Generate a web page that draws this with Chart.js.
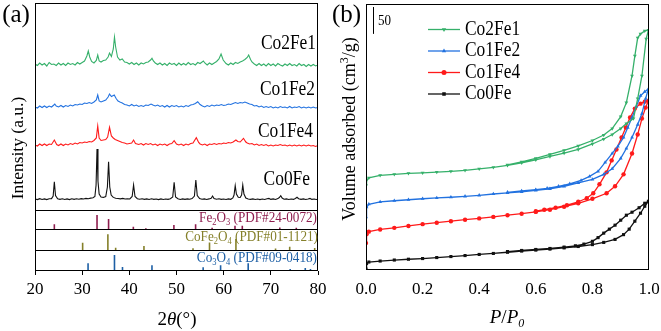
<!DOCTYPE html>
<html>
<head>
<meta charset="utf-8">
<script src="https://cdn.jsdelivr.net/npm/chart.js@4.4.1/dist/chart.umd.min.js"></script>
<style>
    html, body { margin: 0; padding: 0; background: #fff; }
    #wrap { position: relative; width: 661px; height: 331px; }
    canvas { position: absolute; top: 0; }
    #xrdChart { left: 0; }
    #betChart { left: 330px; }
</style>
</head>
<body>
<div id="wrap">
    <canvas id="xrdChart" width="330" height="331"></canvas>
    <canvas id="betChart" width="331" height="331"></canvas>
</div>
<script>
// ---- XRD traces, [2theta, stacked intensity] (a.u.) ----
const co2fe1Xrd = [
    [20,207],[20.5,205.5],[21,208],[21.5,206],[22,207.5],[22.5,205],[23,208.5],[23.5,206.5],[24,207],[24.5,205.5],
    [25,208],[25.5,206],[26,207.5],[26.5,205.5],[27,208],[27.5,206.5],[28,207.5],[28.5,206],[29,208.5],[29.5,207],
    [30,208.5],[30.5,210],[31,215],[31.3,220],[31.6,214],[32,209.5],[32.5,208],[33,210.5],[33.3,216],[33.6,210],
    [34,209],[34.5,210.5],[35,211],[35.5,214],[35.8,218],[36.2,214.5],[36.6,222],[36.85,234],[37.1,224],[37.5,214],
    [38,211],[38.5,212],[39,209],[39.5,208.5],[40,207],[40.5,208.5],[41,206.5],[41.5,208],[42,206],[42.5,208],
    [43,207],[43.5,208.5],[44,209],[44.5,211],[44.8,212.7],[45.1,210],[45.5,208],[46,206.5],[46.5,208],[47,206],
    [47.5,207.5],[48,205.5],[48.5,208],[49,206.5],[49.5,207.5],[50,205.5],[50.5,208],[51,206],[51.5,207.5],[52,206],
    [52.5,208.5],[53,206.5],[53.5,207.5],[54,206],[54.5,208.5],[55,207.5],[55.7,210],[56,208],[56.5,206],[57,208],
    [57.5,206.5],[58,208],[58.5,209.5],[59,212],[59.45,217],[59.9,211],[60.5,207.5],[61,206],[61.5,208],[62,206.5],
    [62.5,208.5],[63,207.5],[63.5,209],[64,210],[64.5,211.5],[65,213.5],[65.3,216],[65.7,211.5],[66,209],[66.5,207],
    [67,205.5],[67.5,207.5],[68,205.5],[68.5,207],[69,205],[69.5,207.5],[70,205.5],[70.5,207],[71,205],[71.5,207.5],
    [72,206],[72.5,205],[73,207],[73.5,205.5],[74,207.5],[74.5,205.5],[75,206.5],[75.5,205],[76,207.5],[76.5,205.5],
    [77,206.5],[77.5,204.5],[78,206.5],[78.5,205],[79,206.5],[79.5,205],[80,206]
];
const co1fe2Xrd = [
    [20,164],[20.5,163],[21,165],[21.5,163.5],[22,165],[22.5,163.5],[23,165],[23.5,164],[24,166],[24.2,167],
    [24.5,165],[25,164],[25.5,165.5],[26,164],[26.5,165.5],[27,164.5],[27.5,166],[28,165],[28.5,166.5],[29,166],
    [29.5,167],[30,166.5],[30.5,168],[31,167.5],[31.5,168.5],[32,167.5],[32.5,169],[33,171],[33.3,176],[33.6,170],
    [34,169],[34.5,170],[35,171],[35.5,174],[35.8,177],[36.2,174.5],[36.8,176],[37.2,172.5],[37.6,170],[38,169],
    [38.5,168],[39,166.5],[39.5,166],[40,165],[40.5,166.5],[41,165],[41.5,166],[42,164.5],[42.5,165.5],[43,164.5],
    [43.5,166],[44,165.5],[44.6,167],[45,166],[45.5,165],[46,166],[46.5,164.5],[47,165.5],[47.5,164],[48,165.5],
    [48.5,164],[49,165.5],[49.5,164.5],[50,165.5],[50.5,164],[51,165],[51.5,164],[52,165.5],[52.5,164.5],[53,166],
    [53.5,166.5],[54,167.5],[54.5,169.3],[55,166.5],[55.5,165],[56,164],[56.5,165.5],[57,164.5],[57.5,166],[58,165],
    [58.5,166],[59,165.5],[59.5,166.5],[60,165.5],[60.5,166],[61,167],[61.5,166.5],[62,167.5],[62.5,168.5],[63,167.5],
    [63.5,168.5],[64,168],[64.5,169],[65,168],[65.5,167],[66,166.5],[66.5,165],[67,165.5],[67.5,164],[68,165],
    [68.5,163.5],[69,164.5],[69.5,163.5],[70,164.5],[70.5,163],[71,164],[71.5,163],[72,164.5],[72.5,163.5],[73,164],
    [73.5,163],[74,164.5],[74.5,163],[75,164],[75.5,163.5],[76,164.5],[76.5,163],[77,164],[77.5,163],[78,164],
    [78.5,163],[79,164],[79.5,163],[80,163.5]
];
const co1fe4Xrd = [
    [20,126],[20.5,125],[21,127],[21.5,125.5],[22,127],[22.5,125.5],[23,127],[23.5,126.5],[24.1,131],[24.6,126.5],
    [25,125.5],[25.5,127],[26,125.5],[26.5,127],[27,126],[27.5,127.5],[28,126.5],[28.5,128],[29,127],[29.5,128.5],
    [30,128],[30.5,129],[31,128.5],[31.5,129.5],[32,129],[32.5,130.5],[33,133],[33.3,145],[33.6,133],[34,130.5],
    [34.5,131],[35,131.5],[35.4,134],[35.8,143.7],[36.2,135],[36.6,133],[37,131.5],[37.5,130.5],[38,129.5],[38.5,128.5],
    [39,128],[39.5,127],[40,127.5],[40.5,128],[40.9,131],[41.3,127.5],[42,126.5],[42.5,127.5],[43,126],[43.5,127.5],
    [44,126.5],[44.5,127.5],[45,126],[45.5,127],[46,125.5],[46.5,127],[47,126],[47.5,127],[48,125.5],[48.5,127],
    [49,127.5],[49.5,130.3],[50,127],[50.5,126],[51,127],[51.5,125.5],[52,127],[52.5,126],[53,127.5],[53.5,128],
    [54.2,133.3],[54.7,128.5],[55,127],[55.5,126],[56,127],[56.5,125.5],[57,127],[57.5,126.5],[58,127.5],[58.5,126.5],
    [59,127.5],[59.5,127],[60,128],[60.5,127.5],[61,128.5],[61.5,128],[62,129],[62.6,131],[63,129.5],[63.5,129],
    [64.2,132.7],[64.7,129],[65,128],[65.5,127],[66,127.5],[66.5,126],[67,127],[67.5,125.5],[68,126.5],[68.5,125.5],
    [69,126.5],[69.5,125],[70,126],[70.5,125],[71,126],[71.5,125.5],[72,126.5],[72.5,125.5],[73,126],[73.5,125],
    [74,126],[74.5,125],[75,126],[75.5,125],[76,126],[76.5,125],[77,126],[77.5,125],[78,126],[78.5,125],
    [79,125.5],[79.5,124.5],[80,125.5]
];
const co0feXrd = [
    [20,72],[20.5,71.4],[21,72.3],[21.5,71.5],[22,72.1],[22.5,71.4],[23,72.2],[23.5,72.4],[23.85,75],[24.1,89.3],
    [24.35,75.5],[24.8,72.3],[25.3,71.6],[25.8,72.2],[26.3,71.5],[26.8,72.1],[27.3,71.4],[27.8,72.2],[28.3,71.6],[28.8,72.2],
    [29.3,71.7],[29.8,72.4],[30.3,72],[30.8,72.6],[31.3,72.3],[31.8,72.9],[32.3,73.2],[32.7,74.5],[32.95,86],[33.15,122],
    [33.35,90],[33.6,77],[34,74],[34.5,73.6],[35,74.5],[35.35,84],[35.6,109.3],[35.85,84],[36.15,76],[36.6,73.6],
    [37.1,72.8],[37.6,72.5],[38.1,72.1],[38.6,72.6],[39.1,72],[39.6,72.3],[40.1,72],[40.6,74.5],[40.9,86],[41.2,74.5],
    [41.7,72.3],[42.2,71.7],[42.7,72.2],[43.2,71.6],[43.7,72.1],[44.2,71.5],[44.7,72.2],[45.2,71.6],[45.7,72],[46.2,71.4],
    [46.7,72.1],[47.2,71.5],[47.7,72],[48.2,71.6],[48.7,72.2],[49.2,74],[49.5,88.7],[49.8,74],[50.3,72.2],[50.8,71.5],
    [51.3,72.1],[51.8,71.6],[52.3,72.1],[52.8,71.7],[53.3,72.4],[53.8,75],[54.1,91],[54.4,75.5],[54.9,72.4],[55.4,71.7],
    [55.9,72.1],[56.4,71.5],[56.9,72.1],[57.35,72.8],[57.65,75],[57.95,72.5],[58.5,71.8],[59,72.2],[59.5,71.6],[60,72],
    [60.5,71.5],[61,72.1],[61.5,71.7],[61.95,73],[62.2,76],[62.45,85.3],[62.7,77],[63.1,73.8],[63.5,73.5],[63.8,76],
    [64.05,86],[64.3,77],[64.7,73],[65.2,72],[65.7,71.6],[66.2,72.1],[66.7,71.5],[67.2,72],[67.7,71.4],[68.2,72],
    [68.7,71.5],[69.2,72.2],[69.6,72.6],[70,71.6],[70.5,72.1],[71,71.5],[71.5,72.4],[71.8,73.5],[72.1,75.3],[72.4,73],
    [72.8,71.8],[73.3,72.1],[73.8,71.5],[74.3,72],[74.8,71.6],[75.2,72.5],[75.55,73.7],[75.9,72.3],[76.4,71.6],[76.9,72.1],
    [77.4,71.5],[77.9,72],[78.3,72.6],[78.7,71.6],[79.2,72],[79.6,71.5],[80,71.8]
];

// ---- reference cards: [2theta, stick height] ----
const fe2o3Sticks = [[24.1,4.7],[33.15,14],[35.6,10],[40.85,2.3],[43.5,0.8],[49.45,4],[54.05,4.7],[57.55,1.2],[62.4,3.3],[63.95,3.3],[71.9,1.4],[75.4,1.2]];
const cofe2o4Sticks = [[30.1,7.3],[35.45,15.7],[37.1,2.3],[43.1,4],[53.5,1.8],[57.0,7.5],[62.6,11],[71.0,1.6],[74.0,3.2],[79.3,2]];
const co3o4Sticks = [[31.25,7.7],[36.85,16],[38.55,4],[44.8,5.7],[55.65,3.7],[59.35,5.7],[65.2,7.7],[74.1,2],[77.3,3],[78.4,2]];
const stickBase = [42, 21, 0]; // Fe2O3, CoFe2O4, Co3O4 panels
const panelBreaks = [61, 42, 21];

// ---- N2 isotherms, [P/P0, stacked volume] (adsorption then desorption) ----
const co2fe1Iso = [
    [0,85],[0.002,90],[0.01,92.5],[0.05,95],[0.1,96],[0.15,97],[0.2,97.5],[0.25,98.3],[0.3,99],[0.35,100],
    [0.4,101.5],[0.45,103],[0.5,105],[0.55,107.5],[0.6,110.5],[0.65,114],[0.7,117.3],[0.75,121],[0.8,126.5],[0.84,131.5],
    [0.87,136],[0.9,142],[0.92,147],[0.945,152],[0.96,172],[0.975,195],[0.99,232],[0.998,240.7],
    [0.985,240],[0.97,237],[0.96,233],[0.95,215],[0.94,195],[0.92,168],[0.9,154],[0.87,142],[0.84,135.5],[0.8,130],
    [0.75,124.5],[0.7,120],[0.65,116],[0.6,112],[0.55,108.5],[0.5,105.5]
];
const co1fe2Iso = [
    [0,53],[0.002,63],[0.01,66],[0.05,68.3],[0.1,69.5],[0.15,70.5],[0.2,71.5],[0.25,72.3],[0.3,73],[0.35,74],
    [0.4,75],[0.45,76.3],[0.5,77.5],[0.55,78.5],[0.6,80],[0.65,81.5],[0.7,84],[0.75,87.5],[0.8,91],[0.84,96],
    [0.87,101.7],[0.9,112],[0.92,122],[0.94,133],[0.96,146],[0.975,157],[0.988,172],[0.998,181.7],
    [0.985,179],[0.97,175],[0.955,164],[0.94,153],[0.925,143],[0.91,133],[0.89,124],[0.87,117],[0.845,108],[0.82,99],
    [0.79,94],[0.76,90],[0.72,86.5],[0.68,84],[0.64,82],[0.6,80.7],[0.55,79.3],[0.5,78]
];
const co1fe4Iso = [
    [0,27],[0.002,36],[0.01,38.5],[0.05,40.7],[0.1,42.3],[0.15,44.2],[0.2,46],[0.25,47.5],[0.3,49],[0.35,50.5],
    [0.4,51.8],[0.45,53.3],[0.5,55],[0.55,56.5],[0.6,58.3],[0.65,60.5],[0.7,63.5],[0.75,67],[0.8,71.5],[0.85,77],
    [0.88,84],[0.91,96],[0.94,117],[0.96,136],[0.975,152],[0.988,163],[0.998,170],
    [0.985,169],[0.97,167],[0.95,162],[0.933,153],[0.918,143],[0.903,133],[0.885,121],[0.868,110],[0.85,98],
    [0.825,86],[0.803,77],[0.78,72],[0.75,68.5],[0.71,65],[0.67,62.5],[0.63,60.5],[0.6,59]
];
const co0feIso = [
    [0,1],[0.002,6.5],[0.01,8],[0.05,9],[0.1,10],[0.15,10.8],[0.2,11.5],[0.25,12.5],[0.3,13.5],[0.35,14.5],
    [0.4,15.6],[0.45,16.6],[0.5,17.8],[0.55,19],[0.6,20],[0.65,21],[0.7,22.2],[0.75,23.6],[0.8,25.5],[0.84,27.7],
    [0.88,30.7],[0.91,35.5],[0.93,41],[0.95,49],[0.97,57],[0.985,64],[0.998,69],
    [0.985,67],[0.965,62.5],[0.94,58],[0.92,55],[0.9,50],[0.88,45],[0.86,41],[0.84,37],[0.82,32.5],
    [0.8,28.8],[0.77,26],[0.74,24.3],[0.7,23],[0.65,21.6],[0.6,20.6],[0.55,19.6],[0.5,18.5]
];

const sampleNames = ['Co2Fe1', 'Co1Fe2', 'Co1Fe4', 'Co0Fe'];
const sampleColors = ['#35b06a', '#2272e0', '#ff1a1a', '#111111'];
const cardColors = ['#8e1d4e', '#85802a', '#1d5fa5'];
const scaleBarValue = '50';

const serif = "'Liberation Serif', 'Times New Roman', serif";

// draws text made of parts (sub/superscripts, italics)
function drawRich(ctx, parts, x, y, o) {
    const size = o.size;
    const fontOf = p => (p.italic ? 'italic ' : '') + ((p.sub || p.sup) ? Math.round(size * 0.65) : size) + 'px ' + serif;
    ctx.save();
    ctx.fillStyle = o.color || '#000';
    ctx.textBaseline = 'middle';
    ctx.textAlign = 'left';
    let w = 0;
    parts.forEach(p => { ctx.font = fontOf(p); w += ctx.measureText(p.t).width; });
    ctx.translate(x, y);
    if (o.rotate) ctx.rotate(o.rotate);
    ctx.scale(o.scaleX || 1, 1);
    let cx = o.align === 'right' ? -w : (o.align === 'center' ? -w / 2 : 0);
    parts.forEach(p => {
        ctx.font = fontOf(p);
        const dy = p.sub ? size * 0.3 : (p.sup ? -size * 0.3 : 0);
        ctx.fillText(p.t, cx, dy);
        cx += ctx.measureText(p.t).width;
    });
    ctx.restore();
}

function frame(chart) {
    const a = chart.chartArea, ctx = chart.ctx;
    ctx.save();
    ctx.strokeStyle = '#000';
    ctx.lineWidth = 1;
    ctx.strokeRect(Math.round(a.left) + 0.5, Math.round(a.top) + 0.5,
        Math.round(a.right - a.left) - 1, Math.round(a.bottom - a.top) - 1);
    ctx.restore();
}

function stickLine(sticks, base) {
    const pts = [];
    sticks.forEach(s => {
        pts.push({x: s[0], y: base}, {x: s[0], y: base + s[1]}, {x: s[0], y: null});
    });
    return pts;
}

// keep the plot boxes exactly where the figure has them
function fixBox(height) {
    return s => {
        s.height = height;
        s.paddingLeft = 0;
        s.paddingRight = 0;
    };
}

// ---------------- (a) XRD ----------------
const xrdTraces = [co2fe1Xrd, co1fe2Xrd, co1fe4Xrd, co0feXrd];
const xrdDatasets = xrdTraces.map((tr, i) => ({
    label: sampleNames[i],
    data: tr,
    borderColor: sampleColors[i],
    borderWidth: 1.1,
    pointRadius: 0,
    tension: 0
}));
[fe2o3Sticks, cofe2o4Sticks, co3o4Sticks].forEach((s, i) => {
    xrdDatasets.push({
        label: 'card' + i,
        data: stickLine(s, stickBase[i]),
        borderColor: cardColors[i],
        borderWidth: 1.6,
        pointRadius: 0,
        spanGaps: false
    });
});

const xrdDecor = {
    id: 'xrdDecor',
    afterDraw(chart) {
        const ctx = chart.ctx, a = chart.chartArea, y = chart.scales.y;
        ctx.save();
        ctx.strokeStyle = '#000';
        ctx.lineWidth = 1;
        panelBreaks.forEach(v => {
            const py = Math.round(y.getPixelForValue(v)) + 0.5;
            ctx.beginPath();
            ctx.moveTo(a.left, py);
            ctx.lineTo(a.right, py);
            ctx.stroke();
        });
        ctx.restore();
        frame(chart);

        const labelPos = [[316, 43.5], [315, 90], [313, 132], [310, 180]];
        sampleNames.forEach((n, i) => drawRich(ctx, [{t: n}], labelPos[i][0], labelPos[i][1],
            {size: 20, align: 'right', scaleX: 0.87}));

        drawRich(ctx, [{t: 'Fe'}, {t: '2', sub: true}, {t: 'O'}, {t: '3', sub: true}, {t: ' (PDF#24-0072)'}],
            317, 218, {size: 15.5, align: 'right', scaleX: 0.85, color: cardColors[0]});
        drawRich(ctx, [{t: 'CoFe'}, {t: '2', sub: true}, {t: 'O'}, {t: '4', sub: true}, {t: ' (PDF#01-1121)'}],
            318, 237, {size: 15.5, align: 'right', scaleX: 0.85, color: cardColors[1]});
        drawRich(ctx, [{t: 'Co'}, {t: '3', sub: true}, {t: 'O'}, {t: '4', sub: true}, {t: ' (PDF#09-0418)'}],
            317, 258, {size: 15.5, align: 'right', scaleX: 0.85, color: cardColors[2]});

        drawRich(ctx, [{t: 'Intensity (a.u.)'}], 18, 148, {size: 17.5, align: 'center', rotate: -Math.PI / 2});
        drawRich(ctx, [{t: '2'}, {t: 'θ', italic: true}, {t: '(°)'}], 177, 320, {size: 19, align: 'center'});
        drawRich(ctx, [{t: '(a)'}], 16, 15, {size: 25, align: 'center'});
    }
};

new Chart(document.getElementById('xrdChart'), {
    type: 'line',
    data: {datasets: xrdDatasets},
    options: {
        responsive: false,
        animation: false,
        layout: {padding: {left: 35, right: 12, top: 3, bottom: 0}},
        plugins: {legend: {display: false}, tooltip: {enabled: false}},
        scales: {
            x: {
                type: 'linear',
                min: 20,
                max: 80,
                ticks: {stepSize: 10, color: '#000', padding: 4, font: {family: serif, size: 17}},
                grid: {display: true, drawOnChartArea: false, drawTicks: true, tickLength: 4, color: '#000'},
                border: {display: false},
                afterFit: fixBox(60)
            },
            y: {type: 'linear', display: false, min: 0, max: 268}
        }
    },
    plugins: [xrdDecor]
});

// ---------------- (b) BET ----------------
const isoData = [co2fe1Iso, co1fe2Iso, co1fe4Iso, co0feIso];
const markerStyles = [
    {pointStyle: 'triangle', rotation: 180},
    {pointStyle: 'triangle', rotation: 0},
    {pointStyle: 'circle', rotation: 0},
    {pointStyle: 'rect', rotation: 0}
];
const betDatasets = isoData.map((d, i) => ({
    label: sampleNames[i],
    data: d,
    borderColor: sampleColors[i],
    backgroundColor: sampleColors[i],
    borderWidth: 1.3,
    pointRadius: 2.2,
    pointBorderWidth: 0,
    pointStyle: markerStyles[i].pointStyle,
    rotation: markerStyles[i].rotation,
    tension: 0
}));

const betDecor = {
    id: 'betDecor',
    afterDraw(chart) {
        const ctx = chart.ctx, x = chart.scales.x, y = chart.scales.y;
        frame(chart);

        // legend
        chart.data.datasets.forEach((ds, i) => {
            const ly = 29.5 + i * 21.5;
            ctx.save();
            ctx.strokeStyle = ds.borderColor;
            ctx.fillStyle = ds.backgroundColor;
            ctx.lineWidth = 1.3;
            ctx.beginPath();
            ctx.moveTo(98, ly);
            ctx.lineTo(130, ly);
            ctx.stroke();
            Chart.helpers.drawPoint(ctx, {pointStyle: ds.pointStyle, rotation: ds.rotation, radius: 2.5, borderWidth: 0}, 114, ly);
            ctx.restore();
            drawRich(ctx, [{t: ds.label}], 135, ly, {size: 20, align: 'left', scaleX: 0.87});
        });

        // scale bar
        const bx = Math.round(x.getPixelForValue(0.026)) + 0.5;
        ctx.save();
        ctx.strokeStyle = '#000';
        ctx.lineWidth = 1;
        ctx.beginPath();
        ctx.moveTo(bx, y.getPixelForValue(264));
        ctx.lineTo(bx, y.getPixelForValue(237));
        ctx.stroke();
        ctx.restore();
        drawRich(ctx, [{t: scaleBarValue}], bx + 4.5, 21, {size: 15, align: 'left', scaleX: 0.87});

        drawRich(ctx, [{t: 'Volume adsorbed (cm'}, {t: '3', sup: true}, {t: '/g)'}], 20, 129,
            {size: 18, align: 'center', rotate: -Math.PI / 2});
        drawRich(ctx, [{t: 'P', italic: true}, {t: '/'}, {t: 'P', italic: true}, {t: '0', italic: true, sub: true}],
            177, 318, {size: 19, align: 'center'});
        drawRich(ctx, [{t: '(b)'}], 16.5, 15, {size: 25, align: 'center'});
    }
};

new Chart(document.getElementById('betChart'), {
    type: 'line',
    data: {datasets: betDatasets},
    options: {
        responsive: false,
        animation: false,
        layout: {padding: {left: 36, right: 12, top: 3, bottom: 0}},
        plugins: {legend: {display: false}, tooltip: {enabled: false}},
        scales: {
            x: {
                type: 'linear',
                min: 0,
                max: 1,
                ticks: {stepSize: 0.2, color: '#000', padding: 9, font: {family: serif, size: 17},
                    callback: v => v.toFixed(1)},
                grid: {display: false, drawTicks: false},
                border: {display: false},
                afterFit: fixBox(61)
            },
            y: {type: 'linear', display: false, min: 0, max: 267}
        }
    },
    plugins: [betDecor]
});
</script>
</body>
</html>
